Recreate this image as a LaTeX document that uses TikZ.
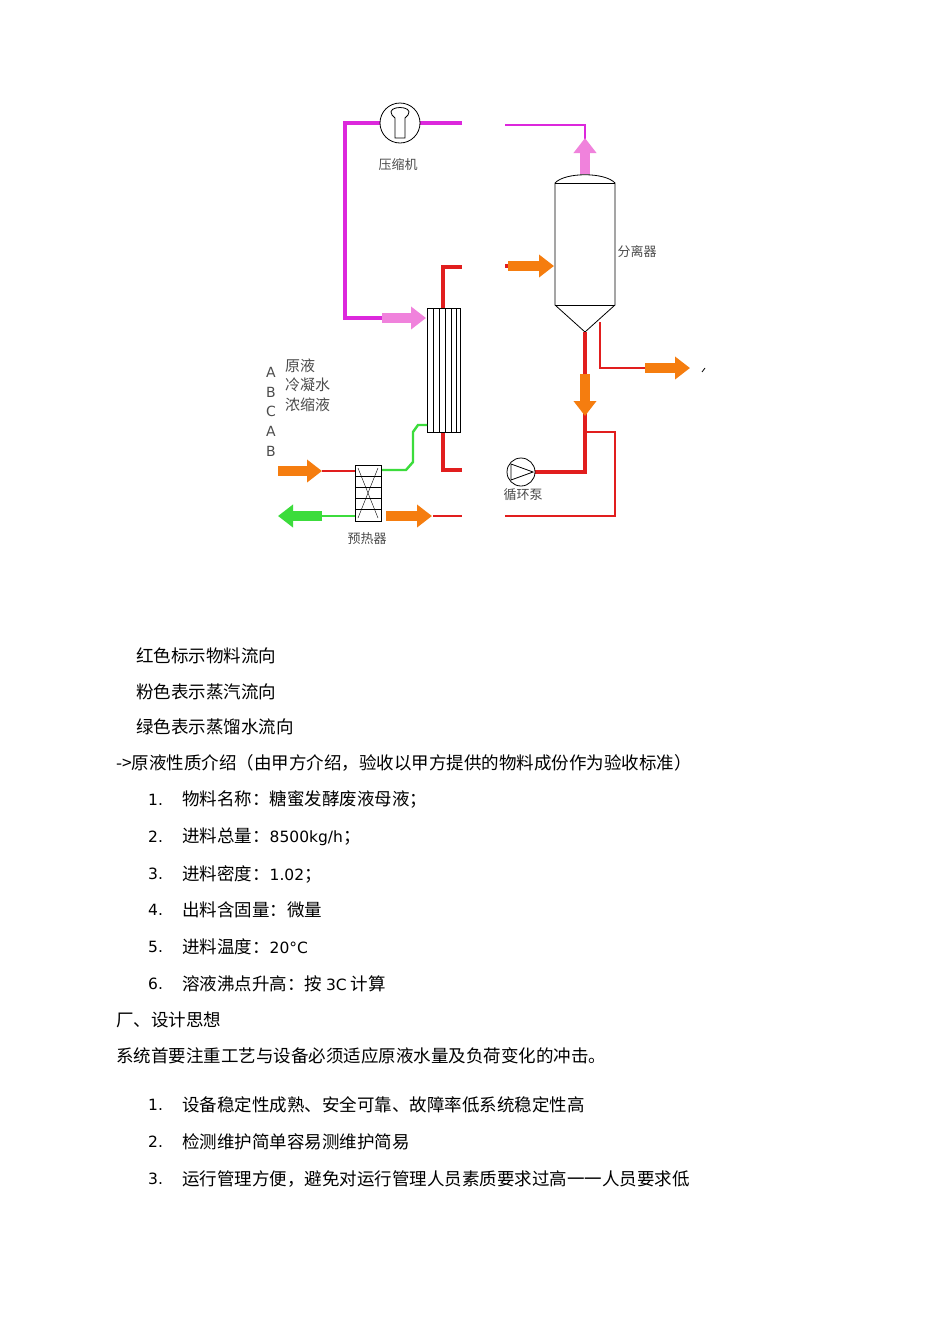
\documentclass[tikz,border=0pt]{standalone}
\usepackage{fontspec}
\setmainfont{DejaVu Sans}
\newfontfamily\cjk{Noto Sans CJK SC}
\usetikzlibrary{arrows.meta}
\begin{document}
\begin{tikzpicture}[x=1pt,y=-1pt,
  red/.style={draw={rgb,255:red,225;green,30;blue,30},line width=3.4pt},
  mag/.style={draw={rgb,255:red,220;green,40;blue,220},line width=3.2pt},
  grn/.style={draw={rgb,255:red,60;green,220;blue,60},line width=2.4pt},
  fat/.style={line width=10pt,-{Triangle[width=22pt,length=15pt]}},
  org/.style={fat,draw={rgb,255:red,245;green,125;blue,15}},
  pnk/.style={fat,draw={rgb,255:red,240;green,130;blue,220}},
  gfat/.style={fat,draw={rgb,255:red,60;green,220;blue,60}},
  lab/.style={font=\cjk\fontsize{13}{15}\selectfont,text=black!70,inner sep=0},
  body/.style={font=\cjk\fontsize{17.5}{20}\selectfont,anchor=west,inner sep=0},
  num/.style={font=\fontsize{15.5}{18}\selectfont,anchor=west,inner sep=0}]
\useasboundingbox[fill=white] (0,0) rectangle (950,1344);
% compressor
\draw[mag] (462,123) -- (420,123);
\draw[mag] (380,123) -- (345,123) -- (345,318) -- (385,318);
\draw[pnk] (382,318) -- (426,318);
\node[circle,draw,thick,minimum size=40pt,inner sep=0,fill=white] (comp) at (400,123) {};
\draw[thick] (392,115) .. controls (385,105) and (415,105) .. (408,115) -- (405,118) -- (405,138) -- (395,138) -- (395,118) -- cycle;
\node[lab] (compl) at (398,165) {压缩机};
\draw[mag,line width=2pt] (505,125) -- (585,125) -- (585,148);
\draw[pnk] (585,174) -- (585,138);
% separator
\draw[thick,fill=white] (555,183) -- (555,305) -- (585,332) -- (615,305) -- (615,183) .. controls (605,172) and (565,172) .. (555,183);
\draw[thick] (555,183) -- (615,183) (555,305) -- (615,305);
\node[lab] (sepl) at (637,252) {分离器};
% evaporator
\draw[red] (443,308) -- (443,267) -- (462,267);
\draw[red] (443,432) -- (443,470) -- (462,470);
\draw[thick,fill=white] (427,308) rectangle (460,432);
\foreach \xx in {433,439,445,451,456} \draw (\xx,308) -- (\xx,432);
\draw[red] (505,266) -- (512,266);
\draw[org] (508,266) -- (554,266);
% outlet from separator
\draw[red,line width=2.4pt] (600,322) -- (600,368) -- (648,368);
\draw[org] (645,368) -- (690,368);
\draw[thick] (702,372) -- (705,368);
\draw[red] (585,332) -- (585,472) -- (535,472);
\draw[org] (585,374) -- (585,416);
\draw[red,line width=2.4pt] (585,432) -- (615,432) -- (615,516) -- (505,516);
\node[circle,draw,thick,minimum size=28pt,inner sep=0,fill=white] (pump) at (521,472) {};
\draw[thick] (533,472) -- (511,464) -- (511,480) -- cycle;
\node[lab] (pumpl) at (523,495) {循环泵};
% preheater & green
\draw[grn] (427,425) -- (418,425) -- (413,432) -- (413,462) -- (406,470) -- (382,470);
\draw[red,line width=2.4pt] (322,471) -- (355,471);
\draw[grn] (322,516) -- (355,516);
\draw[red,line width=2.4pt] (433,516) -- (462,516);
\draw[org] (278,471) -- (322,471);
\draw[gfat] (322,516) -- (278,516);
\draw[org] (386,516) -- (432,516);
\draw[thick,fill=white] (355,465) rectangle (381,521);
\foreach \yy in {476,487,498,509} \draw (355,\yy) -- (381,\yy);
\draw (358,468) -- (378,518) (378,468) -- (358,518);
\node[lab] (prel) at (367,539) {预热器};
% legend
\foreach \t/\yy in {A/372,B/392,C/411,A/431,B/451}
  \node[font=\fontsize{14}{15}\selectfont,text=black!70,inner sep=0] at (271,\yy) {\t};
\node[lab,anchor=west,font=\cjk\fontsize{15}{16}\selectfont] (l1) at (285,366) {原液};
\node[lab,anchor=west,font=\cjk\fontsize{15}{16}\selectfont] (l2) at (285,385) {冷凝水};
\node[lab,anchor=west,font=\cjk\fontsize{15}{16}\selectfont] (l3) at (285,405) {浓缩液};
% text
\node[body] (t1) at (136,656) {红色标示物料流向};
\node[body] (t2) at (136,692) {粉色表示蒸汽流向};
\node[body] (t3) at (136,727) {绿色表示蒸馏水流向};
\node[body] (t4) at (116,763) {->原液性质介绍（由甲方介绍，验收以甲方提供的物料成份作为验收标准）};
\foreach \n/\yy/\t in {1/800/物料名称：糖蜜发酵废液母液；,2/837/进料总量：{\fontspec{DejaVu Sans}\fontsize{15.5}{18}\selectfont 8500kg/h}；,3/874/进料密度：{\fontspec{DejaVu Sans}\fontsize{15.5}{18}\selectfont 1.02}；,4/910/出料含固量：微量,5/947/进料温度：{\fontspec{DejaVu Sans}\fontsize{15.5}{18}\selectfont 20°C},6/984/溶液沸点升高：按 {\fontspec{DejaVu Sans}\fontsize{15.5}{18}\selectfont 3C} 计算}{
  \node[num] at (148,\yy) {\n.};
  \node[body] at (182,\yy) {\t};}
\node[body] (t5) at (116,1020) {厂、设计思想};
\node[body] (t6) at (116,1056) {系统首要注重工艺与设备必须适应原液水量及负荷变化的冲击。};
\foreach \n/\yy/\t in {1/1105/设备稳定性成熟、安全可靠、故障率低系统稳定性高,2/1142/检测维护简单容易测维护简易,3/1179/运行管理方便，避免对运行管理人员素质要求过高一一人员要求低}{
  \node[num] at (148,\yy) {\n.};
  \node[body] at (182,\yy) {\t};}
\end{tikzpicture}
\end{document}
